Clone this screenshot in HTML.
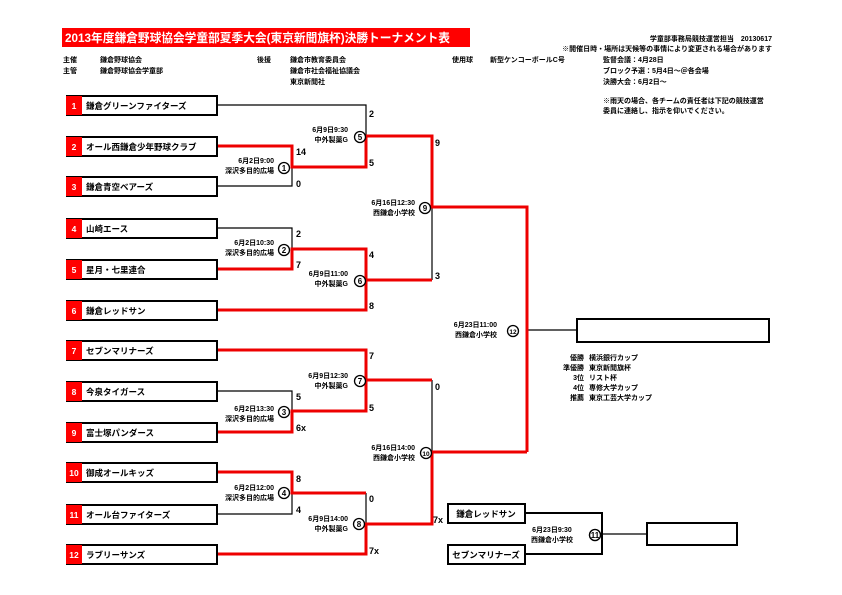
<!DOCTYPE html>
<html><head><meta charset="utf-8"><style>
html,body{margin:0;padding:0;background:#fff;}
svg{display:block;font-family:"Liberation Sans","Noto Sans CJK JP",sans-serif;font-weight:bold;}
.s{font-size:7px;fill:#000;}
.t{font-size:8.5px;fill:#000;}
.sc{font-size:9px;fill:#000;}
.cn{font-size:8px;fill:#000;}
</style></head><body>
<svg width="842" height="595" viewBox="0 0 842 595" xmlns="http://www.w3.org/2000/svg">
<rect x="62" y="28" width="408" height="19" fill="#f00"/>
<text x="65" y="42" fill="#fff" font-size="12" textLength="385" lengthAdjust="spacingAndGlyphs">2013年度鎌倉野球協会学童部夏季大会(東京新聞旗杯)決勝トーナメント表</text>
<text class="s" x="772" y="41" text-anchor="end">学童部事務局競技運営担当　20130617</text>
<text class="s" x="772" y="51" text-anchor="end" font-size="7.5">※開催日時・場所は天候等の事情により変更される場合があります</text>
<g class="s">
<text x="63" y="62">主催</text><text x="100" y="62">鎌倉野球協会</text>
<text x="63" y="73">主管</text><text x="100" y="73">鎌倉野球協会学童部</text>
<text x="257" y="62">後援</text><text x="290" y="62">鎌倉市教育委員会</text>
<text x="290" y="73">鎌倉市社会福祉協議会</text><text x="290" y="84">東京新聞社</text>
<text x="452" y="62">使用球</text><text x="490" y="62">新型ケンコーボールC号</text>
<text x="603" y="62">監督会議：4月28日</text>
<text x="603" y="73">ブロック予選：5月4日～＠各会場</text>
<text x="603" y="84">決勝大会：6月2日～</text>
<text x="603" y="103">※雨天の場合、各チームの責任者は下記の競技運営</text>
<text x="603" y="113">委員に連絡し、指示を仰いでください。</text>
</g>
<!-- team boxes -->
<g>
<g transform="translate(0,96)"><rect x="67" y="0" width="150" height="19" fill="#fff" stroke="#000" stroke-width="2"/><rect x="66" y="0" width="16" height="19" fill="#f00"/><text x="74" y="13" fill="#fff" font-size="8.5" text-anchor="middle">1</text><text class="t" x="86" y="13">鎌倉グリーンファイターズ</text></g>
<g transform="translate(0,137)"><rect x="67" y="0" width="150" height="19" fill="#fff" stroke="#000" stroke-width="2"/><rect x="66" y="0" width="16" height="19" fill="#f00"/><text x="74" y="13" fill="#fff" font-size="8.5" text-anchor="middle">2</text><text class="t" x="86" y="13">オール西鎌倉少年野球クラブ</text></g>
<g transform="translate(0,177)"><rect x="67" y="0" width="150" height="19" fill="#fff" stroke="#000" stroke-width="2"/><rect x="66" y="0" width="16" height="19" fill="#f00"/><text x="74" y="13" fill="#fff" font-size="8.5" text-anchor="middle">3</text><text class="t" x="86" y="13">鎌倉青空ベアーズ</text></g>
<g transform="translate(0,219)"><rect x="67" y="0" width="150" height="19" fill="#fff" stroke="#000" stroke-width="2"/><rect x="66" y="0" width="16" height="19" fill="#f00"/><text x="74" y="13" fill="#fff" font-size="8.5" text-anchor="middle">4</text><text class="t" x="86" y="13">山崎エース</text></g>
<g transform="translate(0,260)"><rect x="67" y="0" width="150" height="19" fill="#fff" stroke="#000" stroke-width="2"/><rect x="66" y="0" width="16" height="19" fill="#f00"/><text x="74" y="13" fill="#fff" font-size="8.5" text-anchor="middle">5</text><text class="t" x="86" y="13">星月・七里連合</text></g>
<g transform="translate(0,301)"><rect x="67" y="0" width="150" height="19" fill="#fff" stroke="#000" stroke-width="2"/><rect x="66" y="0" width="16" height="19" fill="#f00"/><text x="74" y="13" fill="#fff" font-size="8.5" text-anchor="middle">6</text><text class="t" x="86" y="13">鎌倉レッドサン</text></g>
<g transform="translate(0,341)"><rect x="67" y="0" width="150" height="19" fill="#fff" stroke="#000" stroke-width="2"/><rect x="66" y="0" width="16" height="19" fill="#f00"/><text x="74" y="13" fill="#fff" font-size="8.5" text-anchor="middle">7</text><text class="t" x="86" y="13">セブンマリナーズ</text></g>
<g transform="translate(0,382)"><rect x="67" y="0" width="150" height="19" fill="#fff" stroke="#000" stroke-width="2"/><rect x="66" y="0" width="16" height="19" fill="#f00"/><text x="74" y="13" fill="#fff" font-size="8.5" text-anchor="middle">8</text><text class="t" x="86" y="13">今泉タイガース</text></g>
<g transform="translate(0,423)"><rect x="67" y="0" width="150" height="19" fill="#fff" stroke="#000" stroke-width="2"/><rect x="66" y="0" width="16" height="19" fill="#f00"/><text x="74" y="13" fill="#fff" font-size="8.5" text-anchor="middle">9</text><text class="t" x="86" y="13">富士塚パンダース</text></g>
<g transform="translate(0,463)"><rect x="67" y="0" width="150" height="19" fill="#fff" stroke="#000" stroke-width="2"/><rect x="66" y="0" width="16" height="19" fill="#f00"/><text x="74" y="13" fill="#fff" font-size="8.5" text-anchor="middle">10</text><text class="t" x="86" y="13">御成オールキッズ</text></g>
<g transform="translate(0,505)"><rect x="67" y="0" width="150" height="19" fill="#fff" stroke="#000" stroke-width="2"/><rect x="66" y="0" width="16" height="19" fill="#f00"/><text x="74" y="13" fill="#fff" font-size="8.5" text-anchor="middle">11</text><text class="t" x="86" y="13">オール台ファイターズ</text></g>
<g transform="translate(0,545)"><rect x="67" y="0" width="150" height="19" fill="#fff" stroke="#000" stroke-width="2"/><rect x="66" y="0" width="16" height="19" fill="#f00"/><text x="74" y="13" fill="#fff" font-size="8.5" text-anchor="middle">12</text><text class="t" x="86" y="13">ラブリーサンズ</text></g>
</g>
<!-- black lines -->
<g stroke="#000" stroke-width="1.2" fill="none">
<polyline points="218,105 366,105 366,136"/>
<polyline points="218,186 292,186 292,167"/>
<polyline points="218,228 292,228 292,249"/>
<polyline points="432,207 432,280"/>
<polyline points="218,391 292,391 292,411"/>
<polyline points="432,380 432,452"/>
<polyline points="218,514 292,514 292,493"/>
<polyline points="366,493 366,524"/>
<line x1="527" y1="330" x2="577" y2="330"/>
</g>
<!-- red lines -->
<g stroke="#e00" stroke-width="3" fill="none">
<polyline points="218,146 292,146 292,167 366,167 366,136 432,136 432,207 527,207 527,452"/>
<polyline points="218,269 292,269 292,249 366,249 366,280 432,280"/>
<polyline points="218,310 366,310 366,280"/>
<polyline points="218,350 366,350 366,411 292,411 292,432 218,432"/>
<polyline points="366,380 432,380"/>
<polyline points="218,472 292,472 292,493 366,493"/>
<polyline points="218,554 366,554 366,524 432,524 432,452 527,452"/>
</g>
<!-- scores -->
<g class="sc">
<text x="296" y="155">14</text><text x="296" y="187">0</text>
<text x="369" y="117">2</text><text x="369" y="166">5</text>
<text x="435" y="146">9</text><text x="435" y="279">3</text>
<text x="296" y="237">2</text><text x="296" y="268">7</text>
<text x="369" y="258">4</text><text x="369" y="309">8</text>
<text x="369" y="359">7</text><text x="369" y="411">5</text>
<text x="296" y="400">5</text><text x="296" y="431">6x</text>
<text x="435" y="390">0</text><text x="433" y="523">7x</text>
<text x="296" y="482">8</text><text x="296" y="513">4</text>
<text x="369" y="502">0</text><text x="369" y="554">7x</text>
</g>
<!-- match labels -->
<g class="s" text-anchor="end">
<text x="274" y="163">6月2日9:00</text><text x="274" y="173">深沢多目的広場</text>
<text x="348" y="132">6月9日9:30</text><text x="348" y="142">中外製薬G</text>
<text x="274" y="245">6月2日10:30</text><text x="274" y="255">深沢多目的広場</text>
<text x="348" y="276">6月9日11:00</text><text x="348" y="286">中外製薬G</text>
<text x="415" y="205">6月16日12:30</text><text x="415" y="215">西鎌倉小学校</text>
<text x="274" y="411">6月2日13:30</text><text x="274" y="421">深沢多目的広場</text>
<text x="348" y="378">6月9日12:30</text><text x="348" y="388">中外製薬G</text>
<text x="274" y="490">6月2日12:00</text><text x="274" y="500">深沢多目的広場</text>
<text x="348" y="521">6月9日14:00</text><text x="348" y="531">中外製薬G</text>
<text x="415" y="450">6月16日14:00</text><text x="415" y="460">西鎌倉小学校</text>
<text x="497" y="327">6月23日11:00</text><text x="497" y="337">西鎌倉小学校</text>
<text x="584" y="360">優勝</text><text x="584" y="370">準優勝</text><text x="584" y="380">3位</text><text x="584" y="390">4位</text><text x="584" y="400">推薦</text>
</g>
<g class="s">
<text x="589" y="360">横浜銀行カップ</text><text x="589" y="370">東京新聞旗杯</text><text x="589" y="380">リスト杯</text><text x="589" y="390">専修大学カップ</text><text x="589" y="400">東京工芸大学カップ</text>
</g>
<g fill="#fff" stroke="#000" stroke-width="1.3">
<circle cx="284" cy="168" r="5.5"/><circle cx="360" cy="137" r="5.5"/>
<circle cx="284" cy="250" r="5.5"/><circle cx="360" cy="281" r="5.5"/>
<circle cx="425" cy="208" r="5.5"/>
<circle cx="284" cy="412" r="5.5"/><circle cx="360" cy="381" r="5.5"/>
<circle cx="284" cy="493" r="5.5"/><circle cx="359" cy="524" r="5.5"/>
<circle cx="426" cy="453" r="5.5"/>
<circle cx="513" cy="331" r="5.5"/>
<circle cx="595" cy="535" r="5.5"/>
</g>
<g class="cn" text-anchor="middle">
<text x="284" y="171">1</text><text x="360" y="140">5</text>
<text x="284" y="253">2</text><text x="360" y="284">6</text>
<text x="425" y="211">9</text>
<text x="284" y="415">3</text><text x="360" y="384">7</text>
<text x="284" y="496">4</text><text x="359" y="527">8</text>
<text x="426" y="456" font-size="6.5">10</text>
<text x="513" y="334" font-size="6.5">12</text>
<text x="595" y="538" font-size="6.5">11</text>
</g>
<!-- match 11 / final -->
<rect x="577" y="319" width="192" height="23" fill="none" stroke="#000" stroke-width="2"/>
<polyline points="526,513 602,513 602,554 526,554" fill="none" stroke="#000" stroke-width="2"/>
<line x1="601" y1="534" x2="647" y2="534" stroke="#000" stroke-width="1.2"/>
<circle cx="595" cy="535" r="5.5" fill="#fff" stroke="#000" stroke-width="1.3"/>
<text class="cn" x="595" y="538" font-size="6.5" text-anchor="middle">11</text>
<rect x="647" y="523" width="90" height="22" fill="none" stroke="#000" stroke-width="2"/>
<rect x="448" y="504" width="77" height="19" fill="#fff" stroke="#000" stroke-width="2"/>
<text class="t" x="486" y="517" text-anchor="middle">鎌倉レッドサン</text>
<rect x="448" y="545" width="77" height="19" fill="#fff" stroke="#000" stroke-width="2"/>
<text class="t" x="486" y="558" text-anchor="middle">セブンマリナーズ</text>
<text class="s" x="552" y="532" text-anchor="middle">6月23日9:30</text>
<text class="s" x="552" y="542" text-anchor="middle">西鎌倉小学校</text>
</svg>
</body></html>
